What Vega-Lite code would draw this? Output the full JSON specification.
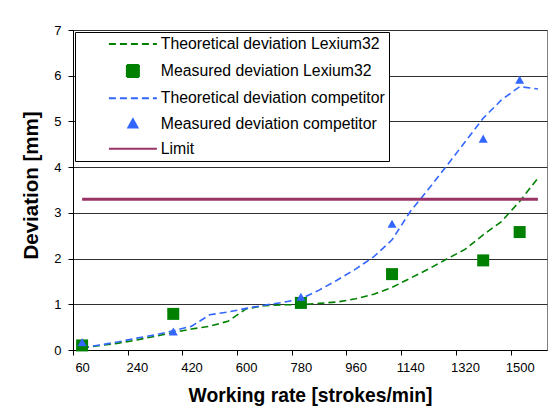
{
  "$schema": "https://vega.github.io/schema/vega-lite/v6.json",
  "width": 474,
  "height": 320,
  "autosize": {"type": "none"},
  "padding": {"left": 73, "top": 30, "right": 5, "bottom": 62},
  "background": "white",
  "config": {
    "font": "Liberation Sans",
    "view": {"stroke": "#808080", "strokeWidth": 1}
  },
  "data": {
    "values": [
      {"series": "Theoretical deviation Lexium32", "x": 60, "y": 0.05},
      {"series": "Theoretical deviation Lexium32", "x": 120, "y": 0.1},
      {"series": "Theoretical deviation Lexium32", "x": 180, "y": 0.15},
      {"series": "Theoretical deviation Lexium32", "x": 240, "y": 0.22},
      {"series": "Theoretical deviation Lexium32", "x": 300, "y": 0.3},
      {"series": "Theoretical deviation Lexium32", "x": 360, "y": 0.38},
      {"series": "Theoretical deviation Lexium32", "x": 420, "y": 0.46},
      {"series": "Theoretical deviation Lexium32", "x": 480, "y": 0.52},
      {"series": "Theoretical deviation Lexium32", "x": 540, "y": 0.63},
      {"series": "Theoretical deviation Lexium32", "x": 600, "y": 0.9},
      {"series": "Theoretical deviation Lexium32", "x": 660, "y": 0.97},
      {"series": "Theoretical deviation Lexium32", "x": 720, "y": 0.99},
      {"series": "Theoretical deviation Lexium32", "x": 780, "y": 0.99},
      {"series": "Theoretical deviation Lexium32", "x": 840, "y": 1.02},
      {"series": "Theoretical deviation Lexium32", "x": 900, "y": 1.05},
      {"series": "Theoretical deviation Lexium32", "x": 960, "y": 1.12},
      {"series": "Theoretical deviation Lexium32", "x": 1020, "y": 1.22},
      {"series": "Theoretical deviation Lexium32", "x": 1080, "y": 1.37},
      {"series": "Theoretical deviation Lexium32", "x": 1140, "y": 1.57},
      {"series": "Theoretical deviation Lexium32", "x": 1200, "y": 1.77},
      {"series": "Theoretical deviation Lexium32", "x": 1260, "y": 1.99},
      {"series": "Theoretical deviation Lexium32", "x": 1320, "y": 2.2},
      {"series": "Theoretical deviation Lexium32", "x": 1380, "y": 2.52},
      {"series": "Theoretical deviation Lexium32", "x": 1440, "y": 2.81},
      {"series": "Theoretical deviation Lexium32", "x": 1500, "y": 3.25},
      {"series": "Theoretical deviation Lexium32", "x": 1560, "y": 3.76},
      {"series": "Theoretical deviation competitor", "x": 60, "y": 0.05},
      {"series": "Theoretical deviation competitor", "x": 120, "y": 0.11},
      {"series": "Theoretical deviation competitor", "x": 180, "y": 0.18},
      {"series": "Theoretical deviation competitor", "x": 240, "y": 0.26},
      {"series": "Theoretical deviation competitor", "x": 300, "y": 0.33},
      {"series": "Theoretical deviation competitor", "x": 360, "y": 0.42},
      {"series": "Theoretical deviation competitor", "x": 420, "y": 0.52},
      {"series": "Theoretical deviation competitor", "x": 480, "y": 0.77},
      {"series": "Theoretical deviation competitor", "x": 540, "y": 0.83},
      {"series": "Theoretical deviation competitor", "x": 600, "y": 0.91},
      {"series": "Theoretical deviation competitor", "x": 660, "y": 0.98},
      {"series": "Theoretical deviation competitor", "x": 720, "y": 1.04},
      {"series": "Theoretical deviation competitor", "x": 780, "y": 1.12},
      {"series": "Theoretical deviation competitor", "x": 840, "y": 1.31},
      {"series": "Theoretical deviation competitor", "x": 900, "y": 1.53},
      {"series": "Theoretical deviation competitor", "x": 960, "y": 1.77},
      {"series": "Theoretical deviation competitor", "x": 1020, "y": 2.04},
      {"series": "Theoretical deviation competitor", "x": 1080, "y": 2.41},
      {"series": "Theoretical deviation competitor", "x": 1140, "y": 3.03},
      {"series": "Theoretical deviation competitor", "x": 1200, "y": 3.52},
      {"series": "Theoretical deviation competitor", "x": 1260, "y": 4.03},
      {"series": "Theoretical deviation competitor", "x": 1320, "y": 4.55},
      {"series": "Theoretical deviation competitor", "x": 1380, "y": 5.07},
      {"series": "Theoretical deviation competitor", "x": 1440, "y": 5.47},
      {"series": "Theoretical deviation competitor", "x": 1500, "y": 5.76},
      {"series": "Theoretical deviation competitor", "x": 1560, "y": 5.71},
      {"series": "Limit", "x": 60, "y": 3.3},
      {"series": "Limit", "x": 1560, "y": 3.3},
      {"series": "Measured deviation Lexium32", "x": 60, "y": 0.1},
      {"series": "Measured deviation Lexium32", "x": 360, "y": 0.79},
      {"series": "Measured deviation Lexium32", "x": 780, "y": 1.03},
      {"series": "Measured deviation Lexium32", "x": 1080, "y": 1.66},
      {"series": "Measured deviation Lexium32", "x": 1380, "y": 1.96},
      {"series": "Measured deviation Lexium32", "x": 1500, "y": 2.58},
      {"series": "Measured deviation competitor", "x": 60, "y": 0.17},
      {"series": "Measured deviation competitor", "x": 360, "y": 0.4},
      {"series": "Measured deviation competitor", "x": 780, "y": 1.16},
      {"series": "Measured deviation competitor", "x": 1080, "y": 2.76},
      {"series": "Measured deviation competitor", "x": 1380, "y": 4.62},
      {"series": "Measured deviation competitor", "x": 1500, "y": 5.91}
    ]
  },
  "encoding": {
    "x": {
      "field": "x",
      "type": "quantitative",
      "scale": {"domain": [30, 1590], "nice": false, "zero": false},
      "axis": {
        "title": "Working rate [strokes/min]",
        "values": [60, 240, 420, 600, 780, 960, 1140, 1320, 1500],
        "format": "d",
        "tickOffset": -9.1,
        "labelOffset": 9.1,
        "grid": false,
        "domainColor": "black",
        "tickColor": "black",
        "tickSize": 5,
        "labelFontSize": 13,
        "labelColor": "black",
        "labelPadding": 6,
        "titleFontSize": 19.3,
        "titleFontWeight": "bold",
        "titleColor": "black",
        "titlePadding": 12
      }
    },
    "y": {
      "field": "y",
      "type": "quantitative",
      "scale": {"domain": [0, 7], "nice": false},
      "axis": {
        "title": "Deviation [mm]",
        "values": [0, 1, 2, 3, 4, 5, 6, 7],
        "format": "d",
        "grid": true,
        "gridColor": "#303030",
        "gridOpacity": 1,
        "domainColor": "black",
        "tickColor": "black",
        "tickSize": 5,
        "labelFontSize": 13,
        "labelColor": "black",
        "labelPadding": 7,
        "titleFontSize": 20.5,
        "titleFontWeight": "bold",
        "titleColor": "black",
        "titleX": -42,
        "titleY": 155,
        "titleBaseline": "middle"
      }
    },
    "color": {
      "field": "series",
      "type": "nominal",
      "scale": {
        "domain": ["Theoretical deviation Lexium32", "Measured deviation Lexium32", "Theoretical deviation competitor", "Measured deviation competitor", "Limit"],
        "range": ["#008000", "#008000", "#3366ff", "#3366ff", "#993366"]
      },
      "legend": {
        "title": null,
        "orient": "none",
        "legendX": 2,
        "legendY": 2,
        "padding": 4,
        "strokeColor": "black",
        "fillColor": "white",
        "symbolOffset": 46,
        "labelOffset": 20,
        "labelFontSize": 15.8,
        "labelColor": "black",
        "labelLimit": 400,
        "rowPadding": 8.2,
        "symbolSize": 144,
        "symbolStrokeWidth": 2,
        "symbolOpacity": 1,
        "encode": {
          "legend": {"update": {"width": {"value": 326}, "height": {"value": 123}}}
        }
      }
    },
    "strokeDash": {
      "field": "series",
      "type": "nominal",
      "scale": {
        "domain": ["Theoretical deviation Lexium32", "Measured deviation Lexium32", "Theoretical deviation competitor", "Measured deviation competitor", "Limit"],
        "range": [[7, 4], [1, 0], [7, 4], [1, 0], [1, 0]]
      }
    },
    "shape": {
      "field": "series",
      "type": "nominal",
      "scale": {
        "domain": ["Theoretical deviation Lexium32", "Measured deviation Lexium32", "Theoretical deviation competitor", "Measured deviation competitor", "Limit"],
        "range": ["M-4,0H4", "M-1,-1H1V1H-1Z", "M-4,0H4", "M0,-0.7L0.75,0.65H-0.75Z", "M-4,0H4"]
      }
    }
  },
  "layer": [
    {
      "transform": [{"filter": "indexof(datum.series, 'Theoretical') >= 0"}],
      "mark": {"type": "line", "strokeWidth": 1.6}
    },
    {
      "transform": [{"filter": "datum.series === 'Limit'"}],
      "mark": {"type": "line", "strokeWidth": 3}
    },
    {
      "transform": [{"filter": "indexof(datum.series, 'Measured') >= 0"}],
      "mark": {"type": "point", "filled": true, "size": 144, "opacity": 1, "strokeWidth": 0}
    }
  ]
}
